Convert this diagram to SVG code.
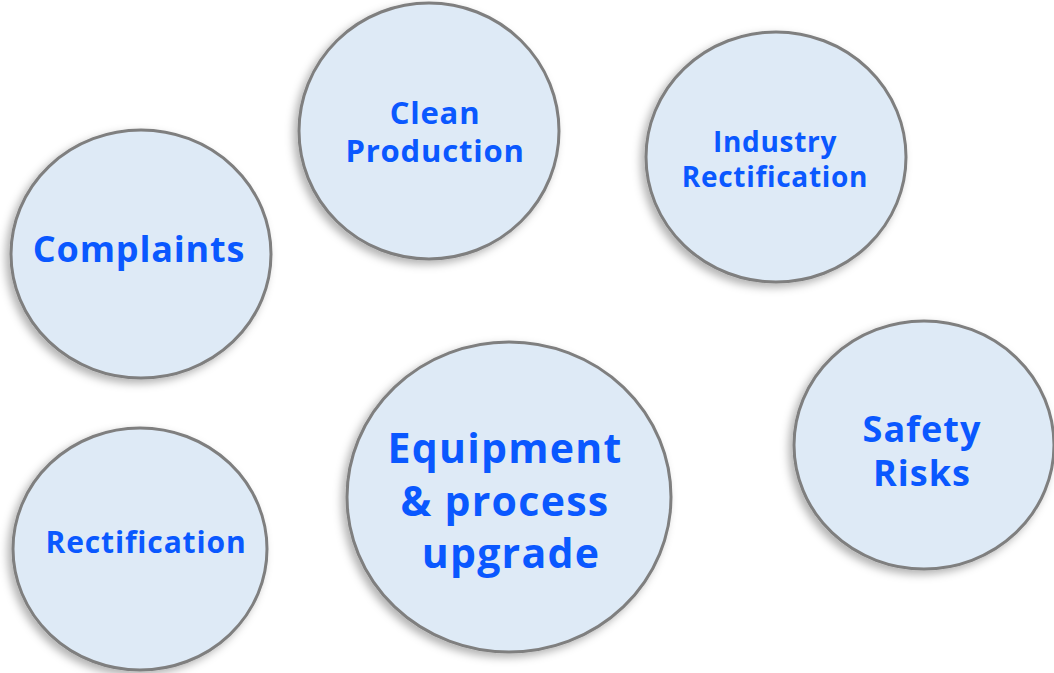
<svg xmlns="http://www.w3.org/2000/svg" width="1054" height="673" viewBox="0 0 1054 673">
<defs>
<filter id="sh" x="-20%" y="-20%" width="140%" height="140%">
<feDropShadow dx="-4" dy="4" stdDeviation="4" flood-color="#000" flood-opacity="0.3"/>
</filter>
</defs>
<style>
.c{fill:#DEEAF6;stroke:#7F7F7F;stroke-width:3;filter:url(#sh)}
.t{font-family:"Open Sans","Noto Sans",sans-serif;font-weight:bold;fill:#0A58FF;text-anchor:middle}
</style>
<rect width="1054" height="673" fill="#fff"/>
<g id="complaints">
<ellipse class="c" cx="141" cy="254" rx="130" ry="124"/>
<text class="t" x="139" y="262" font-size="36" letter-spacing="0.8">Complaints</text>
</g>
<g id="clean-production">
<ellipse class="c" cx="429" cy="131" rx="130" ry="128"/>
<text class="t" x="435" y="124" font-size="31" letter-spacing="0.8">Clean</text>
<text class="t" x="435" y="162" font-size="31" letter-spacing="0.8">Production</text>
</g>
<g id="industry-rectification">
<ellipse class="c" cx="776" cy="157" rx="130" ry="125"/>
<text class="t" x="775" y="152" font-size="28" letter-spacing="0.7">Industry</text>
<text class="t" x="775" y="187" font-size="28" letter-spacing="0.7">Rectification</text>
</g>
<g id="rectification">
<ellipse class="c" cx="140" cy="549" rx="127" ry="121"/>
<text class="t" x="146" y="553" font-size="30" letter-spacing="0.85">Rectification</text>
</g>
<g id="equipment">
<ellipse class="c" cx="509" cy="497" rx="162" ry="155"/>
<text class="t" x="505" y="463" font-size="41" letter-spacing="1.3">Equipment</text>
<text class="t" x="505" y="516" font-size="41" letter-spacing="1.3">&amp; process</text>
<text class="t" x="511" y="568" font-size="41" letter-spacing="1.3">upgrade</text>
</g>
<g id="safety-risks">
<ellipse class="c" cx="924" cy="445" rx="130" ry="124"/>
<text class="t" x="922" y="442" font-size="36" letter-spacing="1">Safety</text>
<text class="t" x="922" y="486" font-size="36" letter-spacing="1">Risks</text>
</g>
<g id="connectors"/>
</svg>
